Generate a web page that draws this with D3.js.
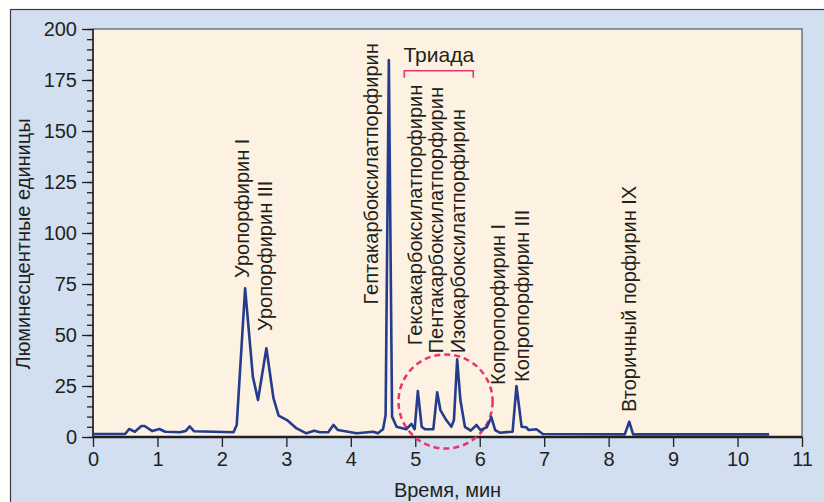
<!DOCTYPE html>
<html>
<head>
<meta charset="utf-8">
<script src="https://cdn.jsdelivr.net/npm/d3@7"></script>
<style>
  html, body { margin: 0; padding: 0; background: #ffffff; }
  svg text { font-family: "Liberation Sans", Arial, sans-serif; fill: #231f20; }
</style>
</head>
<body>
<div id="chart"></div>
<script>
// chromatogram readings: time (min) and luminescence
var times = [0, 0.5, 0.56, 0.65, 0.75, 0.8, 0.92, 1.03, 1.12, 1.35, 1.44, 1.5, 1.57,
	2.18, 2.23, 2.36, 2.48, 2.56, 2.69, 2.8, 2.88, 3.01, 3.16, 3.31, 3.43, 3.52, 3.65,
	3.73, 3.8, 4.09, 4.35, 4.42, 4.5, 4.54, 4.59, 4.64, 4.71, 4.86, 4.94, 4.99, 5.04,
	5.1, 5.15, 5.28, 5.34, 5.39, 5.48, 5.56, 5.6, 5.65, 5.7, 5.77, 5.86, 5.95, 6.01,
	6.11, 6.18, 6.24, 6.31, 6.51, 6.57, 6.65, 6.72, 6.76, 6.88, 6.98, 8.25, 8.32, 8.38, 10.49];
var signal = [1.5, 1.5, 3.9, 2.6, 5.4, 5.4, 2.9, 3.9, 2.6, 2.3, 3, 5.2, 2.8,
	2.3, 5.9, 72.9, 29.6, 18.1, 43.5, 19, 10.5, 8.3, 4.2, 1.8, 3.1, 2.3, 2.3,
	5.9, 3.4, 1.8, 2.6, 1.8, 3.8, 10.8, 184.8, 10, 5, 3.8, 6.4, 3.8, 22.5,
	5, 3.8, 3.8, 21.9, 13.2, 8.3, 5, 8.3, 38.1, 18.1, 5, 3.1, 5.9, 3.4,
	4.8, 9.7, 3.4, 2.1, 2.6, 25, 5, 4.8, 3.4, 3.8, 1.5, 1.3, 7.5, 1.3, 1.3];

var xTicks = [0, 1, 2, 3, 4, 5, 6, 7, 8, 9, 10, 11];
var yTicks = [0, 25, 50, 75, 100, 125, 150, 175, 200];

var peakNames = ["Уропорфирин I", "Уропорфирин III", "Гептакарбоксилатпорфирин",
	"Гексакарбоксилатпорфирин", "Пентакарбоксилатпорфирин", "Изокарбоксилатпорфирин",
	"Копропорфирин I", "Копропорфирин III", "Вторичный порфирин IX"];

var xTitle = "Время, мин";
var yTitle = "Люминесцентные единицы";
var triadTitle = "Триада";

// --- layout (not data) ---
// label anchors in chart units: [time of baseline, value at text start]
var labelAt = [[2.42, 78], [2.77, 52], [4.42, 65], [5.10, 45], [5.43, 41],
	[5.77, 41], [6.39, 25.5], [6.76, 27], [8.42, 12.3]];

var W = 824, H = 502;
var margin = {top: 29, right: 22, bottom: 65, left: 93};
var width = W - margin.left - margin.right;   // 709
var height = H - margin.top - margin.bottom;  // 408

var x = d3.scaleLinear().domain([0, 11]).range([0, width]);
var y = d3.scaleLinear().domain([0, 200]).range([height, 0]);

var svg = d3.select("#chart").append("svg")
	.attr("width", W)
	.attr("height", H);

// blue panel
svg.append("rect")
	.attr("x", 10.5).attr("y", 9.5)
	.attr("width", W + 20).attr("height", H + 20)
	.attr("fill", "#d2dff0")
	.attr("stroke", "#3a3a3a")
	.attr("stroke-width", 1.2);

var g = svg.append("g")
	.attr("transform", "translate(" + margin.left + "," + margin.top + ")");

// plot background
g.append("rect")
	.attr("width", width).attr("height", height)
	.attr("fill", "#fdf1e1")
	.attr("stroke", "#3a3a3a")
	.attr("stroke-width", 1);

// minor y ticks every 5
var yAxis = d3.axisLeft(y).tickValues(d3.range(0, 201, 5)).tickSize(6).tickFormat("");
g.append("g").attr("class", "y minor").call(yAxis);

// major y ticks
g.append("g").attr("class", "y axis")
	.call(d3.axisLeft(y).tickValues(yTicks).tickSize(11).tickPadding(5));

// x axis
g.append("g").attr("class", "x axis")
	.attr("transform", "translate(0," + height + ")")
	.call(d3.axisBottom(x).tickValues(xTicks).tickSize(10).tickPadding(5));

g.selectAll(".domain").remove();
g.selectAll(".tick line").attr("stroke", "#231f20").attr("stroke-width", 1.3);
g.selectAll(".axis text")
	.attr("fill", "#231f20")
	.style("font-size", "20px")
	.style("font-family", "'Liberation Sans', Arial, sans-serif");

// axis lines
g.append("line").attr("x1", 0).attr("x2", 0).attr("y1", 0).attr("y2", height)
	.attr("stroke", "#231f20").attr("stroke-width", 1.5);
g.append("line").attr("x1", 0).attr("x2", width).attr("y1", height).attr("y2", height)
	.attr("stroke", "#231f20").attr("stroke-width", 2.5);

// triad circle
g.append("circle")
	.attr("cx", x(5.47)).attr("cy", y(17.4))
	.attr("r", x(0.73) - x(0))
	.attr("fill", "none")
	.attr("stroke", "#e8336e")
	.attr("stroke-width", 2.5)
	.attr("stroke-dasharray", "6,4");

// chromatogram line
var line = d3.line()
	.x(function(d, i) { return x(times[i]); })
	.y(function(d) { return y(d); });

g.append("path")
	.datum(signal)
	.attr("fill", "none")
	.attr("stroke", "#243c8e")
	.attr("stroke-width", 2.6)
	.attr("stroke-linejoin", "round")
	.attr("d", line);

// peak labels
g.selectAll("text.peak")
	.data(peakNames)
	.enter().append("text")
	.attr("class", "peak")
	.attr("transform", function(d, i) {
		return "translate(" + x(labelAt[i][0]) + "," + y(labelAt[i][1]) + ") rotate(-90)";
	})
	.style("font-size", "20px")
	.text(function(d) { return d; });

// triad bracket
var bx0 = x(4.83), bx1 = x(5.9), by = y(179.5);
g.append("path")
	.attr("d", "M" + bx0 + "," + (by + 7) + "V" + by + "H" + bx1 + "V" + (by + 7))
	.attr("fill", "none")
	.attr("stroke", "#e8336e")
	.attr("stroke-width", 1.6);
g.append("text")
	.attr("x", (bx0 + bx1) / 2)
	.attr("y", by - 9)
	.attr("text-anchor", "middle")
	.style("font-size", "21px")
	.text(triadTitle);

// axis titles
svg.append("text")
	.attr("x", margin.left + x(5.5))
	.attr("y", 497)
	.attr("text-anchor", "middle")
	.style("font-size", "20px")
	.text(xTitle);

svg.append("text")
	.attr("transform", "translate(30," + 244 + ") rotate(-90)")
	.attr("text-anchor", "middle")
	.style("font-size", "20px")
	.text(yTitle);
</script>
</body>
</html>
